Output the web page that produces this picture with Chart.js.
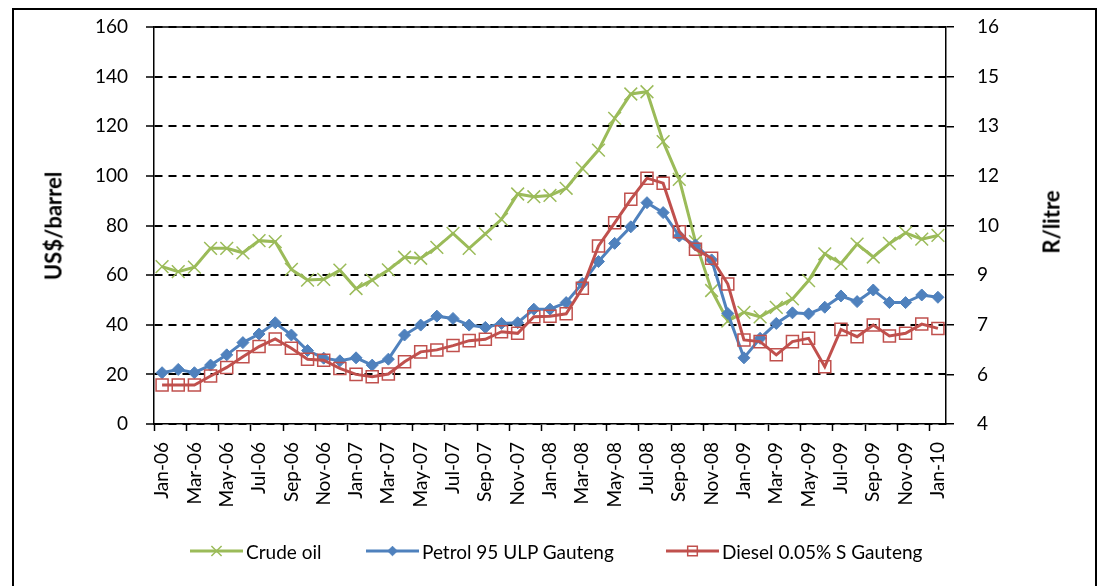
<!DOCTYPE html>
<html>
<head>
<meta charset="utf-8">
<script src="https://cdn.jsdelivr.net/npm/chart.js@4.4.0/dist/chart.umd.min.js"></script>
<style>
  html, body { margin: 0; padding: 0; background: #fff; overflow: hidden; }
  #wrap { position: relative; width: 1097px; height: 586px; font-family: Lato, sans-serif; color: #000; }
  #frame { position: absolute; left: 12px; top: 8px; width: 1085px; height: 640px; border: 2px solid #000; box-sizing: border-box; pointer-events: none; }
  #wrap canvas { position: absolute; left: 0; top: 0; }
  .ytitle { position: absolute; font-weight: bold; font-size: 22px; white-space: nowrap; transform: translate(-50%, -50%) rotate(-90deg); }
  .leg { position: absolute; top: 540px; height: 22px; display: flex; align-items: center; font-size: 19px; white-space: nowrap; }
  .leg span { margin-left: 3px; }
</style>
</head>
<body>
<div id="wrap">
  <canvas id="fuelChart" width="1097" height="586"></canvas>
  <div class="ytitle" style="left:53px; top:226px;">US$/barrel</div>
  <div class="ytitle" style="left:1051px; top:222px;">R/litre</div>
  <div id="legend"></div>
  <div id="frame"></div>
</div>
<script>
// months Jan-06 .. Jan-10
const months = ['Jan-06','Feb-06','Mar-06','Apr-06','May-06','Jun-06','Jul-06','Aug-06','Sep-06','Oct-06','Nov-06','Dec-06',
                'Jan-07','Feb-07','Mar-07','Apr-07','May-07','Jun-07','Jul-07','Aug-07','Sep-07','Oct-07','Nov-07','Dec-07',
                'Jan-08','Feb-08','Mar-08','Apr-08','May-08','Jun-08','Jul-08','Aug-08','Sep-08','Oct-08','Nov-08','Dec-08',
                'Jan-09','Feb-09','Mar-09','Apr-09','May-09','Jun-09','Jul-09','Aug-09','Sep-09','Oct-09','Nov-09','Dec-09',
                'Jan-10'];

// US$/barrel (left axis)
const crudeOil = [63.4, 61.4, 63.2, 70.8, 70.8, 69.0, 73.9, 73.5, 62.3, 58.0, 58.3, 62.0,
                  54.6, 58.0, 62.1, 67.2, 66.8, 71.2, 76.8, 70.8, 76.6, 82.5, 92.7, 91.6,
                  92.1, 95.0, 103.0, 110.4, 123.2, 133.0, 133.9, 113.8, 98.6, 73.5, 53.8, 41.5,
                  45.0, 43.2, 47.0, 50.4, 57.8, 68.6, 64.7, 72.5, 67.3, 72.8, 77.0, 74.5,
                  76.0];

// R/litre (right axis)
const petrol95 = [5.55, 5.65, 5.55, 5.78, 6.09, 6.46, 6.72, 7.06, 6.69, 6.22, 5.99, 5.91,
                  6.00, 5.78, 5.96, 6.69, 6.99, 7.26, 7.19, 6.99, 6.92, 7.04, 7.06, 7.47,
                  7.47, 7.67, 8.25, 8.91, 9.46, 9.96, 10.69, 10.39, 9.68, 9.41, 8.96, 7.34,
                  6.00, 6.59, 7.04, 7.36, 7.33, 7.53, 7.87, 7.70, 8.05, 7.67, 7.67, 7.90,
                  7.83];

const diesel005 = [5.18, 5.18, 5.18, 5.45, 5.71, 6.03, 6.34, 6.57, 6.29, 5.96, 5.93, 5.68,
                   5.50, 5.43, 5.51, 5.88, 6.18, 6.24, 6.37, 6.52, 6.56, 6.79, 6.74, 7.24,
                   7.26, 7.33, 8.10, 9.38, 10.08, 10.79, 11.43, 11.28, 9.81, 9.28, 9.01, 8.23,
                   6.54, 6.49, 6.09, 6.49, 6.59, 5.73, 6.86, 6.64, 6.99, 6.66, 6.74, 7.02,
                   6.89];

const seriesNames = ['Crude oil', 'Petrol 95 ULP Gauteng', 'Diesel 0.05% S Gauteng'];

const GREEN = '#9BBB59', BLUE = '#4F81BD', RED = '#C0504D';

// solid line along the top of the plot area
const plotFrame = {
    id: 'plotFrame',
    beforeDatasetsDraw(chart) {
        const {ctx, chartArea: a} = chart;
        ctx.save();
        ctx.strokeStyle = '#000';
        ctx.lineWidth = 1.5;
        ctx.beginPath();
        ctx.moveTo(a.left, a.top);
        ctx.lineTo(a.right, a.top);
        ctx.stroke();
        ctx.restore();
    }
};

const tickFont = { family: 'Lato', size: 19 };

// fixed axis sizes so the plot area lands where the original has it
function fitY(width) {
    return (scale) => {
        scale.width = width;
        scale.paddingTop = 0;
        scale.paddingBottom = 0;
    };
}

const ctx = document.getElementById('fuelChart').getContext('2d');
const fuelChart = new Chart(ctx, {
    type: 'line',
    data: {
        labels: months,
        datasets: [{
            label: seriesNames[0],
            data: crudeOil,
            yAxisID: 'y',
            borderColor: GREEN,
            borderWidth: 3,
            pointStyle: 'crossRot',
            pointRadius: 9,
            pointBorderWidth: 1.5,
            pointBorderColor: GREEN,
            pointBackgroundColor: GREEN,
            order: 3,
            tension: 0
        }, {
            label: seriesNames[1],
            data: petrol95,
            yAxisID: 'y1',
            borderColor: BLUE,
            borderWidth: 3,
            pointStyle: 'rectRot',
            pointRadius: 6,
            pointBorderWidth: 1,
            pointBorderColor: BLUE,
            pointBackgroundColor: BLUE,
            order: 2,
            tension: 0
        }, {
            label: seriesNames[2],
            data: diesel005,
            yAxisID: 'y1',
            borderColor: RED,
            borderWidth: 3,
            pointStyle: 'rect',
            pointRadius: 8.5,
            pointBorderWidth: 1.5,
            pointBorderColor: RED,
            pointBackgroundColor: 'rgba(0,0,0,0)',
            order: 1,
            tension: 0
        }]
    },
    options: {
        responsive: false,
        animation: false,
        events: [],
        layout: { padding: { top: 27, left: 0, right: 0, bottom: 0 } },
        plugins: {
            legend: { display: false },
            tooltip: { enabled: false }
        },
        scales: {
            x: {
                type: 'category',
                offset: true,
                afterFit(scale) {
                    scale.height = 162;
                    scale.paddingLeft = 0;
                    scale.paddingRight = 0;
                },
                grid: {
                    offset: true,
                    drawOnChartArea: false,
                    tickLength: 7,
                    tickWidth: 1.5,
                    tickColor: (c) => (c.index % 2 === 0 ? '#000' : 'rgba(0,0,0,0)')
                },
                border: { color: '#000', width: 1.5 },
                ticks: {
                    autoSkip: false,
                    maxRotation: 90,
                    minRotation: 90,
                    padding: 11,
                    color: '#000',
                    font: tickFont,
                    callback: (v, i) => (i % 2 === 0 ? months[i] : '')
                }
            },
            y: {
                position: 'left',
                min: 0,
                max: 160,
                afterFit: fitY(154),
                grid: {
                    color: '#000',
                    lineWidth: 2,
                    tickLength: 8,
                    tickColor: '#000',
                    tickWidth: 1.5
                },
                border: { color: '#000', width: 1.5, dash: [8, 6] },
                ticks: { stepSize: 20, padding: 18, color: '#000', font: tickFont }
            },
            y1: {
                position: 'right',
                min: 4,
                max: 16,
                afterFit: fitY(151),
                grid: {
                    drawOnChartArea: false,
                    tickLength: 8,
                    tickColor: '#000',
                    lineWidth: 1.5
                },
                border: { color: '#000', width: 1.5 },
                ticks: {
                    stepSize: 1.5,
                    padding: 23,
                    color: '#000',
                    font: tickFont,
                    callback: (v) => Math.round(v)
                }
            }
        }
    },
    plugins: [plotFrame]
});

// legend: line sample with marker, like the original
const legendPos = [190, 366, 666];
const legendEl = document.getElementById('legend');
fuelChart.data.datasets.forEach((ds, i) => {
    const item = document.createElement('div');
    item.className = 'leg';
    item.style.left = legendPos[i] + 'px';
    const c = document.createElement('canvas');
    c.width = 53; c.height = 22;
    c.style.position = 'static';
    const g = c.getContext('2d');
    g.strokeStyle = ds.borderColor;
    g.lineWidth = 3;
    g.beginPath(); g.moveTo(0, 11); g.lineTo(53, 11); g.stroke();
    g.strokeStyle = ds.pointBorderColor;
    g.fillStyle = ds.pointBackgroundColor;
    g.lineWidth = ds.pointBorderWidth;
    Chart.helpers.drawPoint(g, { pointStyle: ds.pointStyle, radius: ds.pointRadius * 0.8, borderWidth: ds.pointBorderWidth, rotation: 0 }, 26.5, 11);
    item.appendChild(c);
    const t = document.createElement('span');
    t.textContent = ds.label;
    item.appendChild(t);
    legendEl.appendChild(item);
});
</script>
</body>
</html>
